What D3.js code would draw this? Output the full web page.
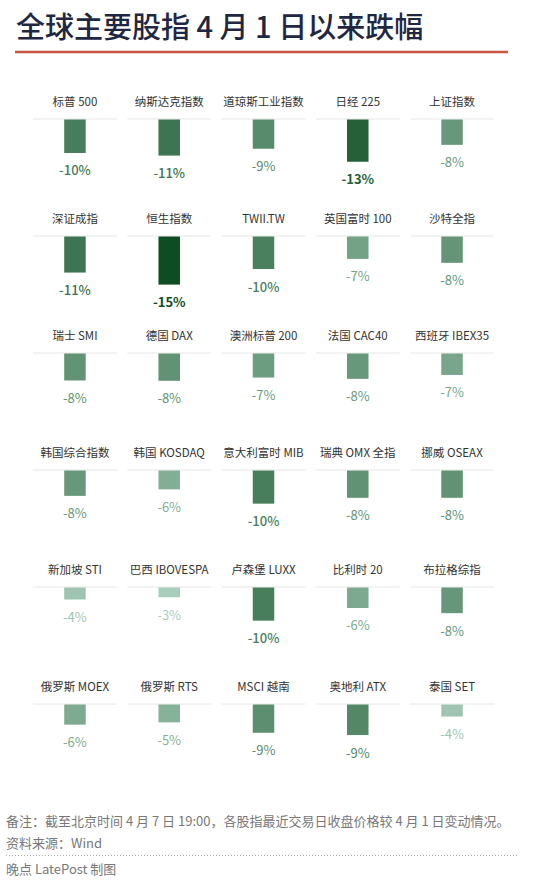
<!DOCTYPE html>
<html>
<head>
<meta charset="utf-8">
<script src="https://cdn.jsdelivr.net/npm/d3@7"></script>
<style>
  body { margin: 0; background: #fff; }
  svg { display: block; font-family: "Noto Sans CJK SC", "Noto Sans", sans-serif; }
</style>
</head>
<body>
<div id="container"></div>
<script>
const width = 550;
const height = 882;

// index names, row by row (5 per row)
const names = [
  '标普 500', '纳斯达克指数', '道琼斯工业指数', '日经 225', '上证指数',
  '深证成指', '恒生指数', 'TWII.TW', '英国富时 100', '沙特全指',
  '瑞士 SMI', '德国 DAX', '澳洲标普 200', '法国 CAC40', '西班牙 IBEX35',
  '韩国综合指数', '韩国 KOSDAQ', '意大利富时 MIB', '瑞典 OMX 全指', '挪威 OSEAX',
  '新加坡 STI', '巴西 IBOVESPA', '卢森堡 LUXX', '比利时 20', '布拉格综指',
  '俄罗斯 MOEX', '俄罗斯 RTS', 'MSCI 越南', '奥地利 ATX', '泰国 SET'
];

// change since April 1, %
const changes = [
  -10.3, -11.1, -9.0, -13.0, -7.8,
  -11.1, -14.8, -10.0, -6.9, -8.1,
  -8.3, -8.4, -7.4, -7.8, -6.6,
  -7.8, -5.8, -10.2, -8.4, -8.4,
  -3.7, -3.0, -10.2, -6.3, -7.9,
  -6.2, -5.5, -8.7, -9.4, -3.7
];

const cols = 5;

const data = names.map((name, i) => ({ name, value: changes[i], row: Math.floor(i / cols), col: i % cols }));

const xScale = d3.scaleBand().domain(d3.range(cols)).range([33, 494]).paddingInner(0.11);
const rowScale = d3.scaleLinear().domain([0, 1]).range([119, 236]);
const barScale = d3.scaleLinear().domain([0, 16]).range([0, 52]);
const color = d3.scaleLinear().domain([3, 9, 15]).range(['#a8cdbb', '#588b6b', '#0b4a20']).clamp(true);

const svg = d3.select('#container')
  .append('svg')
  .attr('width', width)
  .attr('height', height);

// title
svg.append('text')
  .attr('x', 16)
  .attr('y', 38)
  .attr('font-size', 29)
  .attr('font-weight', 500)
  .attr('fill', '#1f2742')
  .text('全球主要股指 4 月 1 日以来跌幅');

svg.append('line')
  .attr('x1', 15).attr('x2', 508)
  .attr('y1', 52).attr('y2', 52)
  .attr('stroke', '#c9553f')
  .attr('stroke-width', 2.5);

const barW = 21.5;

const cell = svg.selectAll('.cell')
  .data(data)
  .join('g')
  .attr('class', 'cell')
  .attr('transform', d => `translate(${xScale(d.col) + xScale.bandwidth() / 2}, ${rowScale(d.row)})`);

cell.append('line')
  .attr('x1', -xScale.bandwidth() / 2)
  .attr('x2', xScale.bandwidth() / 2)
  .attr('stroke', '#e6e6e6')
  .attr('stroke-width', 1);

cell.append('text')
  .attr('y', -13)
  .attr('text-anchor', 'middle')
  .attr('font-size', 11.5)
  .attr('fill', '#333')
  .text(d => d.name);

cell.append('rect')
  .attr('x', -barW / 2)
  .attr('y', 0.5)
  .attr('width', barW)
  .attr('height', d => barScale(-d.value))
  .attr('fill', d => color(-d.value));

cell.append('text')
  .attr('y', d => barScale(-d.value) + 23)
  .attr('text-anchor', 'middle')
  .attr('font-size', 13)
  .attr('font-weight', d => -d.value >= 12.5 ? 600 : (-d.value >= 9.5 ? 500 : 400))
  .attr('fill', d => color(-d.value))
  .text(d => `${Math.round(d.value)}%`);

// footer
const foot = svg.append('g').attr('fill', '#777').attr('font-size', 13);
foot.append('text').attr('x', 6).attr('y', 826)
  .text('备注：截至北京时间 4 月 7 日 19:00，各股指最近交易日收盘价格较 4 月 1 日变动情况。');
foot.append('text').attr('x', 6).attr('y', 848).text('资料来源：Wind');
svg.append('line')
  .attr('x1', 6).attr('x2', 517)
  .attr('y1', 855.5).attr('y2', 855.5)
  .attr('stroke', '#aaa')
  .attr('stroke-dasharray', '1,2');
foot.append('text').attr('x', 6).attr('y', 874).text('晚点 LatePost 制图');
</script>
</body>
</html>
